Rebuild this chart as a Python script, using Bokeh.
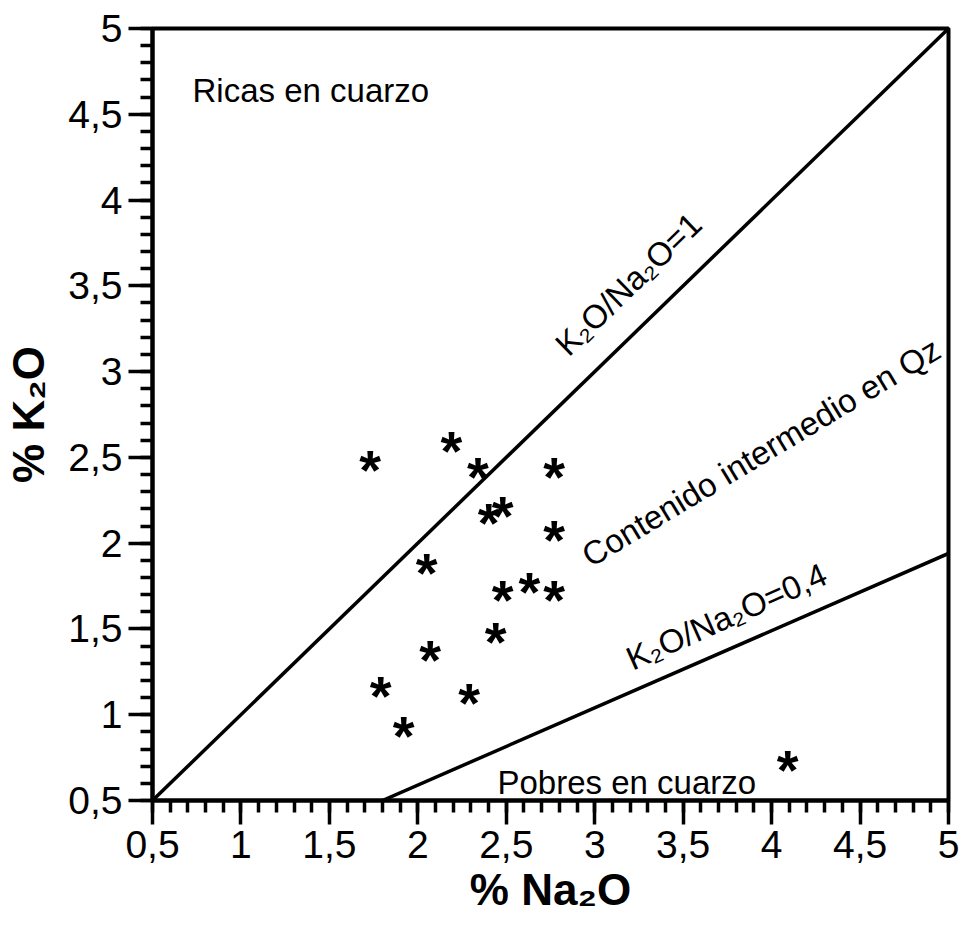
from bokeh.plotting import figure
from bokeh.models import Range1d, FixedTicker, ColumnDataSource
from bokeh.core.properties import value
from bokeh.embed import file_html
from bokeh.resources import INLINE
import numpy as np
import math

# ---- data ----
na2o = [1.73, 2.19, 2.34, 2.40, 2.48, 2.77, 2.77, 2.05, 2.48, 2.63, 2.77, 2.44, 2.07, 1.79, 2.29, 1.92, 4.09]
k2o  = [2.47, 2.58, 2.43, 2.16, 2.20, 2.43, 2.06, 1.87, 1.71, 1.76, 1.71, 1.47, 1.36, 1.15, 1.11, 0.92, 0.72]

ratio1_x = [0.5, 5.0]
ratio1_y = [0.5, 5.0]
ratio04_x = [1.8, 5.0]
ratio04_y = [0.5, 1.94]

tick_values = [0.5, 1, 1.5, 2, 2.5, 3, 3.5, 4, 4.5, 5]
tick_labels = ["0,5", "1", "1,5", "2", "2,5", "3", "3,5", "4", "4,5", "5"]

region_texts = ["K\u2082O/Na\u2082O=1", "Contenido intermedio en Qz", "K\u2082O/Na\u2082O=0,4"]
region_x = [3.19, 3.94, 3.745]
region_y = [3.51, 2.53, 1.573]
region_angle_deg = [44, 31, 24]

FONT = "Liberation Sans"

p = figure(width=966, height=930, output_backend="svg", toolbar_location=None,
           x_range=Range1d(0.5, 5), y_range=Range1d(0.5, 5),
           min_border_left=152, min_border_right=18, min_border_top=28, min_border_bottom=130)

p.grid.visible = False
p.background_fill_color = "white"
p.border_fill_color = "white"
p.outline_line_color = "black"
p.outline_line_width = 4

minor = [round(v, 2) for v in np.arange(0.5, 5.0001, 0.1)]
for ax in (p.xaxis[0], p.yaxis[0]):
    ax.ticker = FixedTicker(ticks=tick_values, minor_ticks=minor)
    ax.major_label_overrides = {float(v): l for v, l in zip(tick_values, tick_labels)}
    ax.axis_line_width = 4
    ax.axis_line_color = "black"
    ax.major_tick_line_width = 3.5
    ax.minor_tick_line_width = 3.5
    ax.major_tick_out = 24
    ax.major_tick_in = 0
    ax.minor_tick_out = 12
    ax.minor_tick_in = 0
    ax.major_label_text_font = FONT
    ax.major_label_text_font_size = "39px"
    ax.major_label_text_color = "black"
    ax.major_label_standoff = 6
    ax.axis_label_text_font = FONT
    ax.axis_label_text_font_style = "bold"
    ax.axis_label_text_font_size = "44px"
    ax.axis_label_text_color = "black"

p.xaxis.axis_label_standoff = 4
p.yaxis.axis_label_standoff = 12
p.xaxis.axis_label = "% Na\u2082O"
p.yaxis.axis_label = "% K\u2082O"

p.line(ratio1_x, ratio1_y, line_color="black", line_width=3.5)
p.line(ratio04_x, ratio04_y, line_color="black", line_width=3.5)

# sample points drawn as bold asterisk characters
p.text(x=na2o, y=k2o, text=["*"] * len(na2o), text_align="center",
       text_baseline="alphabetic", y_offset=7, text_font=value(FONT),
       text_font_style="bold", text_font_size="56px", text_color="black")

src = ColumnDataSource(dict(x=region_x, y=region_y, t=region_texts,
                            a=[math.radians(d) for d in region_angle_deg]))
p.text(x="x", y="y", text="t", angle="a", source=src, text_align="center",
       text_baseline="middle", text_font=value(FONT), text_font_size="33px",
       text_color="black")

p.text(x=[0.726], y=[4.64], text=["Ricas en cuarzo"], text_align="left",
       text_baseline="alphabetic", text_font=value(FONT), text_font_size="33px",
       text_color="black")
p.text(x=[2.45], y=[0.606], text=["Pobres en cuarzo"], text_align="left",
       text_baseline="alphabetic", text_font=value(FONT), text_font_size="33px",
       text_color="black")

open("out.html", "w").write(file_html(p, INLINE))
